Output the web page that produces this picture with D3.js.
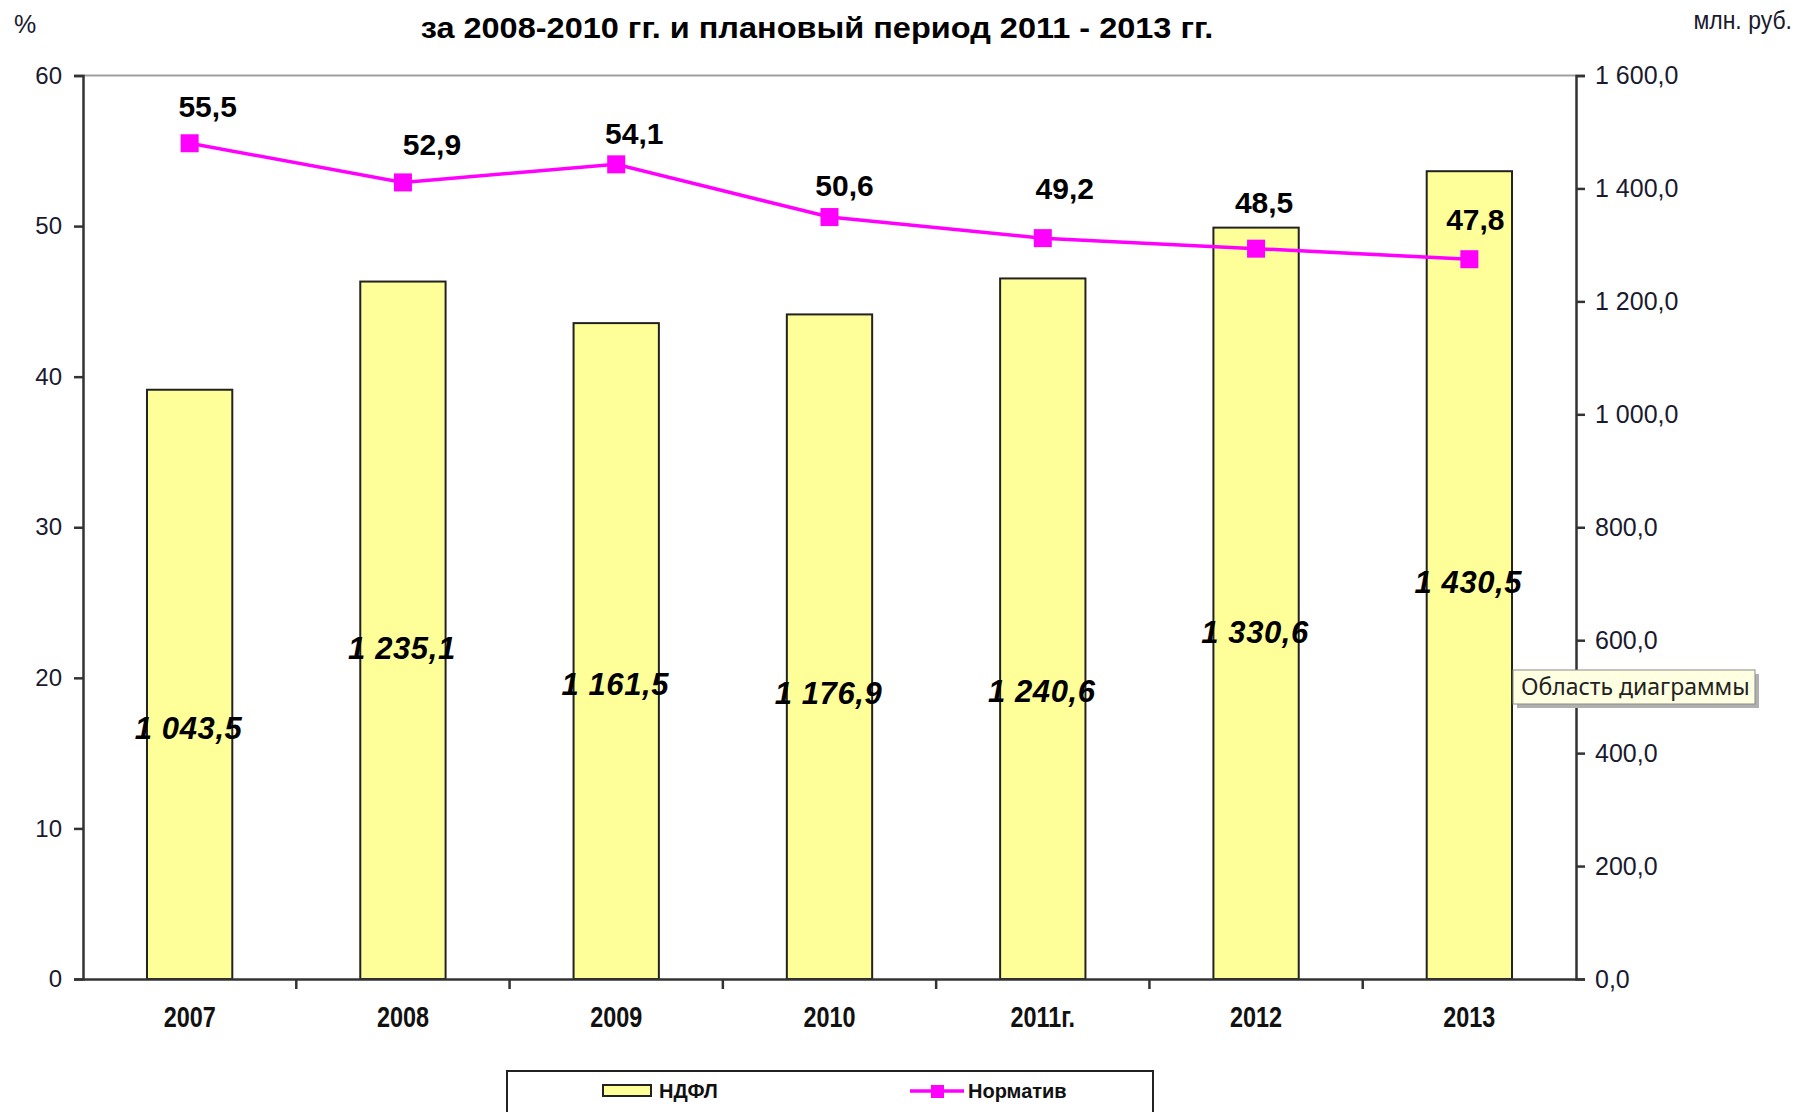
<!DOCTYPE html>
<html>
<head>
<meta charset="utf-8">
<script src="https://cdn.jsdelivr.net/npm/d3@7"></script>
<style>
  html, body { margin: 0; padding: 0; background: #fff; }
  svg { display: block; }
</style>
</head>
<body>
<svg id="chart" width="1795" height="1112"></svg>
<script>
// ---- data ----
const categories = ["2007", "2008", "2009", "2010", "2011г.", "2012", "2013"];
const ndflValues = [1043.5, 1235.1, 1161.5, 1176.9, 1240.6, 1330.6, 1430.5];   // млн. руб.
const normValues = [55.5, 52.9, 54.1, 50.6, 49.2, 48.5, 47.8];                   // %
const leftTicks = [0, 10, 20, 30, 40, 50, 60];
const rightTicks = [0, 200, 400, 600, 800, 1000, 1200, 1400, 1600];
const seriesNames = ["НДФЛ", "Норматив"];
const titleLine2 = "за 2008-2010 гг. и плановый период 2011 - 2013 гг.";
// label placement (layout, as in the original manually-moved labels)
const barLabelAt = [444, 586, 521, 505, 510, 613, 703];          // in млн. руб. axis units
const normLabelDx = [18, 29, 18, 15, 22, 8, 6];
const normLabelDy = [-37, -38, -31, -32, -50, -46, -40];

// ---- layout ----
const svg = d3.select("#chart");
const L = 83, R = 1576, T = 75.5, B = 979;
const sans = "'Liberation Sans', Arial, sans-serif";

const x = d3.scaleBand().domain(categories).range([L, R]).paddingInner(0.6).paddingOuter(0.3);
const xBand = d3.scaleBand().domain(categories).range([L, R]);
const yL = d3.scaleLinear().domain([0, 60]).range([B, T]);
const yR = d3.scaleLinear().domain([0, 1600]).range([B, T]);

const fmtR = v => d3.format(",.1f")(v).replace(/,/g, " ").replace(".", ",");
const fmtC = v => String(v).replace(".", ",");

// top frame line
svg.append("line").attr("x1", L).attr("x2", R).attr("y1", T).attr("y2", T)
  .attr("stroke", "#a0a0a0").attr("stroke-width", 2);

// bars
svg.append("g").selectAll("rect").data(categories).join("rect")
  .attr("x", (d) => x(d))
  .attr("width", x.bandwidth())
  .attr("y", (d, i) => yR(ndflValues[i]))
  .attr("height", (d, i) => B - yR(ndflValues[i]))
  .attr("fill", "#FFFF99").attr("stroke", "#222").attr("stroke-width", 2);

// left axis
const axL = svg.append("g").attr("transform", `translate(${L},0)`)
  .call(d3.axisLeft(yL).tickValues(leftTicks).tickSize(9).tickPadding(12).tickFormat(d => d));
axL.select(".domain").attr("stroke", "#333").attr("stroke-width", 2.5);
axL.selectAll(".tick line").attr("stroke", "#333").attr("stroke-width", 2.5);
axL.selectAll("text").attr("font-family", sans).attr("font-size", 24).attr("fill", "#1a1a2e");

// right axis
const axR = svg.append("g").attr("transform", `translate(${R},0)`)
  .call(d3.axisRight(yR).tickValues(rightTicks).tickSize(9).tickPadding(10).tickFormat(fmtR));
axR.select(".domain").attr("stroke", "#333").attr("stroke-width", 2.5);
axR.selectAll(".tick line").attr("stroke", "#333").attr("stroke-width", 2.5);
axR.selectAll("text").attr("font-family", sans).attr("font-size", 25).attr("fill", "#1a1a2e");

// bottom axis
const axB = svg.append("g").attr("transform", `translate(0,${B})`)
  .call(d3.axisBottom(xBand).tickSize(0).tickPadding(27));
axB.select(".domain").attr("stroke", "#333").attr("stroke-width", 2.5);
axB.selectAll("text").attr("font-family", sans).attr("font-weight", "bold")
  .attr("font-size", 30).attr("fill", "#111").attr("transform", "scale(0.78,1)");
// tick marks between categories
svg.append("g").selectAll("line").data(categories.slice(1)).join("line")
  .attr("x1", d => xBand(d)).attr("x2", d => xBand(d))
  .attr("y1", B).attr("y2", B + 10)
  .attr("stroke", "#333").attr("stroke-width", 2.5);

// line series
const cx = (d) => x(d) + x.bandwidth() / 2;
const line = d3.line().x((d, i) => cx(categories[i])).y(d => yL(d));
svg.append("path").datum(normValues).attr("d", line)
  .attr("fill", "none").attr("stroke", "#FF00FF").attr("stroke-width", 3.5);
svg.append("g").selectAll("rect").data(normValues).join("rect")
  .attr("x", (d, i) => cx(categories[i]) - 9)
  .attr("y", d => yL(d) - 9)
  .attr("width", 18).attr("height", 18).attr("fill", "#FF00FF");

// line labels
svg.append("g").selectAll("text").data(normValues).join("text")
  .attr("x", (d, i) => cx(categories[i]) + normLabelDx[i])
  .attr("y", (d, i) => yL(d) + normLabelDy[i])
  .attr("text-anchor", "middle").attr("dominant-baseline", "central")
  .attr("font-family", sans).attr("font-weight", "bold").attr("font-size", 30)
  .attr("fill", "#000").text(d => fmtC(d));

// bar labels
svg.append("g").selectAll("text").data(ndflValues).join("text")
  .attr("x", (d, i) => cx(categories[i]) - 1)
  .attr("y", (d, i) => yR(barLabelAt[i]))
  .attr("text-anchor", "middle").attr("dominant-baseline", "central")
  .attr("font-family", sans).attr("font-weight", "bold").attr("font-style", "italic")
  .attr("font-size", 31).attr("letter-spacing", 0.6)
  .attr("fill", "#000").text(d => fmtR(d));

// title (second line visible)
svg.append("text").attr("x", 817).attr("y", 38).attr("text-anchor", "middle")
  .attr("font-family", sans).attr("font-weight", "bold").attr("font-size", 32.5)
  .attr("transform", "translate(817,0) scale(1,0.9) translate(-817,4)")
  .attr("fill", "#000").text(titleLine2);

// unit labels
svg.append("text").attr("x", 25).attr("y", 33).attr("text-anchor", "middle")
  .attr("font-family", sans).attr("font-size", 25).attr("fill", "#1a1a2e").text("%");
svg.append("text").attr("x", 1792).attr("y", 29).attr("text-anchor", "end")
  .attr("font-family", sans).attr("font-size", 25).attr("fill", "#1a1a2e")
  .attr("transform", "translate(1792,0) scale(0.92,1) translate(-1792,0)")
  .text("млн. руб.");

// legend
const lg = svg.append("g");
lg.append("rect").attr("x", 507).attr("y", 1071).attr("width", 646).attr("height", 60)
  .attr("fill", "#fff").attr("stroke", "#222").attr("stroke-width", 2);
lg.append("rect").attr("x", 603).attr("y", 1085).attr("width", 48).attr("height", 11)
  .attr("fill", "#FFFF99").attr("stroke", "#222").attr("stroke-width", 2);
lg.append("text").attr("x", 659).attr("y", 1098)
  .attr("font-family", sans).attr("font-weight", "bold").attr("font-size", 20)
  .attr("fill", "#111").text(seriesNames[0]);
lg.append("line").attr("x1", 910).attr("x2", 964).attr("y1", 1091).attr("y2", 1091)
  .attr("stroke", "#FF00FF").attr("stroke-width", 3.5);
lg.append("rect").attr("x", 931).attr("y", 1085).attr("width", 13).attr("height", 13).attr("fill", "#FF00FF");
lg.append("text").attr("x", 968).attr("y", 1098)
  .attr("font-family", sans).attr("font-weight", "bold").attr("font-size", 20)
  .attr("fill", "#111").text(seriesNames[1]);

// tooltip
const tt = svg.append("g");
tt.append("rect").attr("x", 1517).attr("y", 674).attr("width", 242).attr("height", 34).attr("fill", "#b0b0b0");
tt.append("rect").attr("x", 1513).attr("y", 670).attr("width", 242).attr("height", 34)
  .attr("fill", "#FFFFE1").attr("stroke", "#8a8a8a").attr("stroke-width", 1);
tt.append("text").attr("x", 1521).attr("y", 695)
  .attr("font-family", "'Noto Sans', 'Open Sans', sans-serif").attr("font-size", 23)
  .attr("fill", "#222").text("Область диаграммы");
</script>
</body>
</html>
